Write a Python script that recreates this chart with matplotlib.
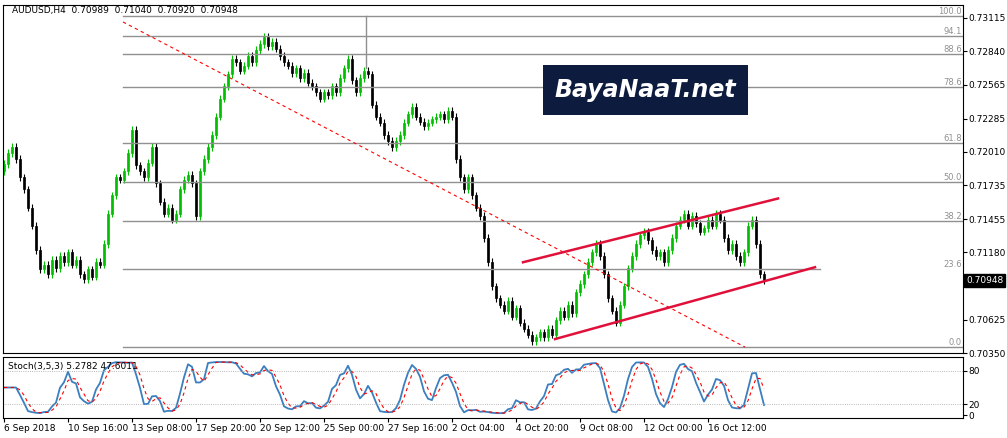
import matplotlib
matplotlib.use("Agg")
import matplotlib.pyplot as plt
import numpy as np
from matplotlib.patches import Rectangle

closes = [0.7191,0.7200,0.7205,0.7195,0.7180,0.7170,0.7155,0.7140,0.7120,0.7104,
0.7108,0.7100,0.7112,0.7105,0.7115,0.7110,0.7118,0.7108,0.7112,0.7100,0.7096,0.7104,
0.7098,0.7110,0.7108,0.7125,0.7150,0.7165,0.7180,0.7178,0.7185,0.7200,0.7219,0.7190,
0.7185,0.7180,0.7192,0.7205,0.7175,0.7160,0.7150,0.7155,0.7145,0.7150,0.7170,0.7178,
0.7182,0.7175,0.7148,0.7185,0.7195,0.7205,0.7215,0.7230,0.7245,0.7255,0.7265,0.7278,
0.7275,0.7268,0.7272,0.7280,0.7275,0.7285,0.7290,0.7296,0.7288,0.7292,0.7286,0.7280,
0.7275,0.7272,0.7266,0.7270,0.7262,0.7266,0.7258,0.7255,0.7250,0.7245,0.7250,0.7248,
0.7255,0.7250,0.7262,0.7270,0.7278,0.7260,0.7250,0.7262,0.7268,0.7265,0.7240,0.7230,
0.7225,0.7215,0.7210,0.7205,0.7210,0.7215,0.7225,0.7232,0.7238,0.7230,0.7226,0.7222,
0.7225,0.7228,0.7230,0.7232,0.7228,0.7235,0.7230,0.7195,0.7180,0.7170,0.7180,0.7165,
0.7155,0.7148,0.7130,0.7110,0.7090,0.7080,0.7075,0.7070,0.7078,0.7065,0.7072,0.7060,
0.7055,0.7050,0.7045,0.7048,0.7052,0.7048,0.7055,0.7050,0.7062,0.7070,0.7065,0.7075,
0.7068,0.7085,0.7092,0.7100,0.7110,0.7118,0.7125,0.7115,0.7100,0.7080,0.7070,0.7060,
0.7075,0.7090,0.7105,0.7115,0.7125,0.7132,0.7135,0.7128,0.7120,0.7115,0.7118,0.7110,
0.7120,0.7130,0.7140,0.7145,0.7150,0.7140,0.7148,0.7142,0.7135,0.7138,0.7145,0.7140,
0.7150,0.7145,0.7130,0.7120,0.7125,0.7115,0.7110,0.7118,0.7140,0.7145,0.7125,0.7100,0.70948]
first_open = 0.7185
wick = 0.0003

fib_low, fib_high = 0.7040, 0.7313
fib_levels = [100.0, 94.1, 88.6, 78.6, 61.8, 50.0, 38.2, 23.6, 0.0]
price_ticks = [0.73115,0.72840,0.72565,0.72285,0.72010,0.71735,0.71455,0.71180,0.70625,0.70350]
xlabels = ["6 Sep 2018","10 Sep 16:00","13 Sep 08:00","17 Sep 20:00","20 Sep 12:00","25 Sep 00:00",
           "27 Sep 16:00","2 Oct 04:00","4 Oct 20:00","9 Oct 08:00","12 Oct 00:00","16 Oct 12:00"]
xlabel_bars = [0,16,32,48,64,80,96,112,128,144,160,176]
trend_line = ([29.75,185.25],[0.73082,0.70399])
chan_upper = ([129.75,193.5],[0.71099,0.71625])
chan_lower = ([137.75,202.75],[0.70465,0.71058])

c = np.array(closes); n = len(c)
o = np.concatenate([[first_open], c[:-1]])
hi = np.maximum(o, c) + wick; lo = np.minimum(o, c) - wick

fig = plt.figure(figsize=(10.07,4.38), dpi=100)
W, H = 1007, 438
ax = fig.add_axes([3/W, 1-353/H, 960/W, 348/H])
ax2 = fig.add_axes([3/W, 1-418/H, 960/W, 61/H])
for a in (ax, ax2):
    for s in a.spines.values(): s.set_color('black'); s.set_linewidth(0.8)
    a.set_xlim(-0.25, 239.75)
    a.yaxis.tick_right()
    a.tick_params(labelsize=6.5, length=3, pad=1)

x = np.arange(n)
for i in x:
    col = '#00c000' if c[i] >= o[i] else 'black'
    ax.vlines(i, lo[i], hi[i], color=col, lw=0.8)
    ax.add_patch(Rectangle((i-0.3, min(o[i],c[i])), 0.6, max(abs(c[i]-o[i]),0.00003),
                           facecolor=col, edgecolor=col, lw=0.5))
ax.set_ylim(0.70358, 0.73222)
ax.set_yticks(price_ticks)
ax.set_yticklabels([f"{p:.5f}" for p in price_ticks])
ax.set_xticks([])

for lv in fib_levels:
    p = fib_low + (fib_high-fib_low)*lv/100
    xe = 204 if lv == 23.6 else 239.75
    ax.plot([29.75, xe], [p, p], color='#909090', lw=1)
    ax.text(239.5, p, f"{lv:.1f}", fontsize=6, color='#909090', ha='right', va='bottom')
ax.plot([90.5,90.5],[0.7270,0.7313], color='#909090', lw=1)
ax.plot(*trend_line, color='red', lw=0.8, ls=(0,(3,3)))
ax.plot(*chan_upper, color='#e0103a', lw=1.8)
ax.plot(*chan_lower, color='#e0103a', lw=1.8)

ax.text(2, 0.7318, "AUDUSD,H4  0.70989  0.71040  0.70920  0.70948", fontsize=6.5, va='center')
ax.add_patch(Rectangle((134.75, 0.72315), 51.25, 0.0041, facecolor='#0d1b3e', edgecolor='none', zorder=5))
ax.text(160.4, 0.7252, "BayaNaaT.net", fontsize=17, color='white', ha='center', va='center',
        style='italic', fontweight='bold', zorder=6)
ax.annotate("0.70948", xy=(1.003, 0.70948), xycoords=('axes fraction','data'), fontsize=6.5,
            color='white', va='center', bbox=dict(boxstyle='square,pad=0.2', fc='black', ec='black'))

# Stochastic: %K 5, slowing 3, %D 3 (trailing averages)
def trail(a, p):
    out = np.copy(a)
    for i in range(n):
        out[i] = np.mean(a[max(0, i-p+1):i+1])
    return out
k = np.full(n, 50.0)
for i in range(4, n):
    hh = hi[i-4:i+1].max(); ll = lo[i-4:i+1].min()
    k[i] = (c[i]-ll)/(hh-ll)*100
slow = trail(k, 3)
sig = trail(slow, 3)
ax2.plot(x, slow, color='#3a7fc0', lw=1.3)
ax2.plot(x, sig, color='red', lw=0.8, ls=(0,(3,3)))
for lv in (20, 80):
    ax2.axhline(lv, color='#a0a0a0', lw=0.6, ls=':')
ax2.set_ylim(-5, 105)
ax2.set_yticks([0,20,80]); ax2.set_yticklabels(["0","20","80"])
ax2.set_xticks(xlabel_bars)
ax2.set_xticklabels(xlabels, ha='left', fontsize=6.5)
ax2.text(1, 96, "Stoch(3,5,3) 5.2782 47.6011", fontsize=6.5, va='top')
fig.savefig("out.png", dpi=100, facecolor='white')
